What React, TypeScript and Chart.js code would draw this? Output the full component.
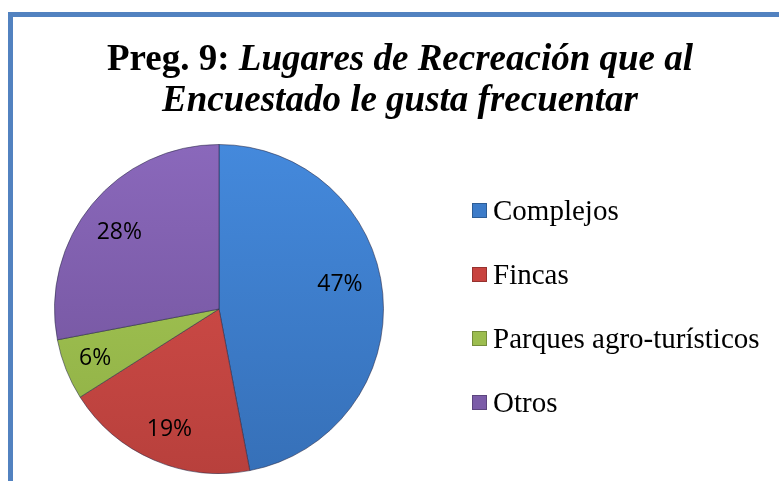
import React, { useEffect, useRef } from "react";
import { Chart, registerables } from "chart.js";

Chart.register(...registerables);

const categories = ["Complejos", "Fincas", "Parques agro-turísticos", "Otros"];
const percentages = [47, 19, 6, 28];
const topColors = ["#4489dc", "#d9504c", "#a9cc58", "#8a68bb"];
const bottomColors = ["#3670b8", "#b8403c", "#8eae44", "#6f5198"];
const legendColors = ["#3d7cc9", "#c8433f", "#9cbd4f", "#7b5ca8"];
// label placement inside each slice: fraction of radius and angular nudge (degrees)
const labelRadius = [0.75, 0.79, 0.81, 0.765];
const labelAngleShift = [-6, -1, 0, -2];

const labelPlugin = {
  id: "pctLabels",
  afterDatasetsDraw(chart: any) {
    const ctx = chart.ctx;
    const meta = chart.getDatasetMeta(0);
    ctx.save();
    ctx.font = '23px "Open Sans"';
    ctx.fillStyle = "#000";
    ctx.textAlign = "center";
    ctx.textBaseline = "middle";
    meta.data.forEach((arc: any, i: number) => {
      const p = arc.getProps(["x", "y", "startAngle", "endAngle", "outerRadius"], true);
      const mid = (p.startAngle + p.endAngle) / 2 + (labelAngleShift[i] * Math.PI) / 180;
      const r = p.outerRadius * labelRadius[i];
      ctx.fillText(percentages[i] + "%", p.x + Math.cos(mid) * r, p.y + Math.sin(mid) * r);
    });
    ctx.restore();
  },
};

export default function App() {
  const ref = useRef<HTMLCanvasElement>(null);
  useEffect(() => {
    document.body.style.margin = "0";
    const chart = new Chart(ref.current!, {
      type: "pie",
      data: {
        labels: categories,
        datasets: [
          {
            data: percentages,
            backgroundColor: (c: any) => {
              const area = c.chart.chartArea;
              if (!area) return topColors[c.dataIndex];
              const g = c.chart.ctx.createLinearGradient(0, area.top, 0, area.bottom);
              g.addColorStop(0, topColors[c.dataIndex]);
              g.addColorStop(1, bottomColors[c.dataIndex]);
              return g;
            },
            borderColor: "rgba(40,40,70,0.55)",
            borderWidth: 1,
          },
        ],
      },
      options: {
        responsive: false,
        animation: false,
        layout: { padding: { left: 54, top: 144, right: 395, bottom: 7 } },
        plugins: {
          legend: { display: false },
          title: { display: false },
          tooltip: { enabled: false },
        },
      },
      plugins: [labelPlugin],
    });
    return () => chart.destroy();
  }, []);

  const serif = '"Liberation Serif", "Times New Roman", serif';
  return (
    <div style={{ position: "relative", width: 779, height: 481, overflow: "hidden", background: "#fff" }}>
      <div
        style={{
          position: "absolute",
          left: 8,
          top: 12,
          width: 800,
          height: 520,
          borderTop: "5px solid #5282c0",
          borderLeft: "5px solid #5282c0",
          boxSizing: "border-box",
        }}
      />
      <canvas ref={ref} width={779} height={481} style={{ position: "absolute", left: 0, top: 0 }} />
      <div
        style={{
          position: "absolute",
          left: 0,
          top: 37,
          width: 800,
          textAlign: "center",
          fontFamily: serif,
          fontSize: 37,
          fontWeight: "bold",
          lineHeight: "41px",
          color: "#000",
        }}
      >
        <div>
          Preg. 9: <i>Lugares de Recreación que al</i>
        </div>
        <div>
          <i>Encuestado le gusta frecuentar</i>
        </div>
      </div>
      {categories.map((c, i) => (
        <div
          key={c}
          style={{
            position: "absolute",
            left: 472,
            top: 193 + i * 64,
            height: 34,
            display: "flex",
            alignItems: "center",
            fontFamily: serif,
            fontSize: 29,
            color: "#000",
            whiteSpace: "nowrap",
          }}
        >
          <span
            style={{
              display: "inline-block",
              width: 15,
              height: 15,
              marginRight: 6,
              background: legendColors[i],
              boxShadow: "inset 0 0 0 1px rgba(0,0,0,0.25)",
            }}
          />
          {c}
        </div>
      ))}
    </div>
  );
}
